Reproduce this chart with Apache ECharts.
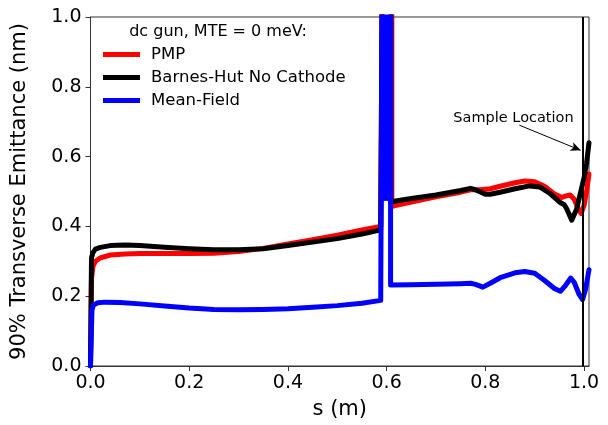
<!DOCTYPE html>
<html>
<head>
<meta charset="utf-8">
<script src="https://cdn.jsdelivr.net/npm/echarts@6/dist/echarts.min.js"></script>
<style>html,body{margin:0;padding:0;background:#fff}#c{width:608px;height:425px}</style>
</head>
<body>
<div id="c"></div>
<script>
const xTicks = [0, 0.2, 0.4, 0.6, 0.8, 1.0];
const yTicks = [0, 0.2, 0.4, 0.6, 0.8, 1.0];
const legendTitle = 'dc gun, MTE = 0 meV:';
const seriesNames = ['PMP', 'Barnes-Hut No Cathode', 'Mean-Field'];
const annotationText = 'Sample Location';
const sampleLocation = 0.998;

const pmpS = [0, 0.002, 0.005, 0.01, 0.02, 0.04, 0.07, 0.1, 0.15, 0.2, 0.25, 0.3, 0.35, 0.4, 0.45, 0.5, 0.55, 0.588, 0.591, 0.6105, 0.6105, 0.615, 0.65, 0.7, 0.75, 0.77, 0.79, 0.81, 0.83, 0.86, 0.88, 0.9, 0.92, 0.94, 0.955, 0.965, 0.972, 0.98, 0.988, 0.994, 1.0, 1.005, 1.01];
const pmpE = [0, 0.25, 0.285, 0.30, 0.31, 0.318, 0.321, 0.322, 0.322, 0.322, 0.323, 0.328, 0.337, 0.35, 0.362, 0.375, 0.39, 0.40, 1.1, 1.1, 0.457, 0.459, 0.47, 0.485, 0.498, 0.505, 0.505, 0.508, 0.515, 0.525, 0.53, 0.528, 0.515, 0.493, 0.483, 0.488, 0.49, 0.478, 0.45, 0.437, 0.46, 0.5, 0.55];

const bhS = [0, 0.002, 0.005, 0.01, 0.02, 0.04, 0.07, 0.1, 0.15, 0.2, 0.25, 0.3, 0.35, 0.4, 0.45, 0.5, 0.55, 0.588, 0.591, 0.6085, 0.6085, 0.615, 0.65, 0.7, 0.75, 0.77, 0.78, 0.8, 0.81, 0.83, 0.86, 0.89, 0.91, 0.93, 0.95, 0.96, 0.965, 0.975, 0.985, 0.995, 1.0, 1.005, 1.01];
const bhE = [0, 0.31, 0.325, 0.335, 0.34, 0.345, 0.347, 0.345, 0.34, 0.336, 0.333, 0.333, 0.336, 0.345, 0.355, 0.365, 0.378, 0.39, 1.1, 1.1, 0.47, 0.472, 0.48, 0.49, 0.503, 0.509, 0.505, 0.492, 0.492, 0.498, 0.508, 0.516, 0.513, 0.495, 0.47, 0.462, 0.45, 0.418, 0.45, 0.51, 0.54, 0.58, 0.64];

const mfS = [0, 0.003, 0.006, 0.015, 0.03, 0.06, 0.1, 0.15, 0.2, 0.25, 0.3, 0.35, 0.4, 0.45, 0.5, 0.55, 0.588, 0.5905,
  0.591, 0.5925, 0.594, 0.5955, 0.597, 0.5985, 0.600, 0.6015, 0.603, 0.6045, 0.606, 0.6075, 0.608, 0.608,
  0.65, 0.7, 0.75, 0.77, 0.78, 0.795, 0.81, 0.83, 0.86, 0.88, 0.9, 0.92, 0.94, 0.952, 0.963, 0.973, 0.98, 0.99, 0.997, 1.003, 1.01];
const mfE = [0, 0.16, 0.175, 0.181, 0.183, 0.182, 0.178, 0.172, 0.166, 0.162, 0.161, 0.162, 0.164, 0.168, 0.173, 0.18, 0.188, 0.19,
  1.1, 0.48, 1.1, 0.48, 1.1, 0.48, 1.1, 0.48, 1.1, 0.48, 1.1, 0.48, 1.1, 0.232,
  0.233, 0.234, 0.236, 0.237, 0.234, 0.226, 0.237, 0.253, 0.267, 0.271, 0.266, 0.245, 0.222, 0.214, 0.232, 0.252, 0.24, 0.205, 0.19, 0.22, 0.276];

const zip = (a, b) => a.map((v, i) => [v, b[i]]);
const FONT = 'DejaVu Sans';
const colors = ['#ff0000', '#000000', '#0000ff'];

const chart = echarts.init(document.getElementById('c'), null, {renderer: 'canvas'});
const mkSeries = (name, data, color, extra) => Object.assign({
  name, type: 'line', data, showSymbol: false, symbol: 'none',
  lineStyle: {color, width: 5, join: 'round', cap: 'round'},
  itemStyle: {color}, clip: true, animation: false
}, extra || {});

chart.setOption({
  animation: false,
  grid: {left: 90.5, right: 19, top: 17, bottom: 54, show: true, borderColor: '#333', borderWidth: 1, containLabel: false},
  legend: {
    data: seriesNames, orient: 'vertical', left: 98, top: 41, itemWidth: 37, itemHeight: 5,
    itemGap: 6, icon: 'rect',
    textStyle: {fontFamily: FONT, fontSize: 16.5, color: '#000', padding: [0, 0, 0, 6]}
  },
  xAxis: {
    type: 'value', min: 0, max: 1.01, name: 's (m)', nameLocation: 'middle', nameGap: 33,
    nameTextStyle: {fontFamily: FONT, fontSize: 21, color: '#000'},
    axisLine: {show: true, lineStyle: {color: '#333', width: 1}},
    axisTick: {show: true, length: 5, inside: false, customValues: xTicks, lineStyle: {color: '#333'}},
    axisLabel: {customValues: xTicks, margin: 8, fontFamily: FONT, fontSize: 19, color: '#000', formatter: v => v.toFixed(1)},
    splitLine: {show: false}
  },
  yAxis: {
    type: 'value', min: 0, max: 1.0, interval: 0.2, name: '90% Transverse Emittance (nm)', nameLocation: 'middle', nameGap: 60,
    nameTextStyle: {fontFamily: FONT, fontSize: 21, color: '#000'},
    axisLine: {show: true, lineStyle: {color: '#333', width: 1}},
    axisTick: {show: true, length: 5, inside: false, customValues: yTicks, lineStyle: {color: '#333'}},
    axisLabel: {customValues: yTicks, margin: 9, fontFamily: FONT, fontSize: 19, color: '#000', formatter: v => v.toFixed(1)},
    splitLine: {show: false}
  },
  series: [
    mkSeries(seriesNames[0], zip(pmpS, pmpE), colors[0]),
    mkSeries(seriesNames[1], zip(bhS, bhE), colors[1], {
      markLine: {
        silent: true, animation: false,
        data: [
          [{coord: [sampleLocation, 0], symbol: 'none', lineStyle: {color: '#000', width: 2, type: 'solid'}},
           {coord: [sampleLocation, 1.0], symbol: 'none'}],
          [{coord: [0.869, 0.69], symbol: 'none', lineStyle: {color: '#000', width: 1, type: 'solid'}},
           {coord: [0.993, 0.618], symbol: 'arrow', symbolSize: [7, 10]}]
        ],
        label: {show: false}
      }
    }),
    mkSeries(seriesNames[2], zip(mfS, mfE), colors[2])
  ]
});

const lblPt = chart.convertToPixel({gridIndex: 0}, [0.857, 0.71]);
chart.setOption({
  graphic: [
    {type: 'text', x: 218, y: 32, style: {text: legendTitle, font: '16px "DejaVu Sans"', fill: '#000', align: 'center', verticalAlign: 'middle'}},
    {type: 'text', x: lblPt[0], y: lblPt[1], style: {text: annotationText, font: '14.5px "DejaVu Sans"', fill: '#000', align: 'center', verticalAlign: 'middle'}}
  ]
});
</script>
</body>
</html>
